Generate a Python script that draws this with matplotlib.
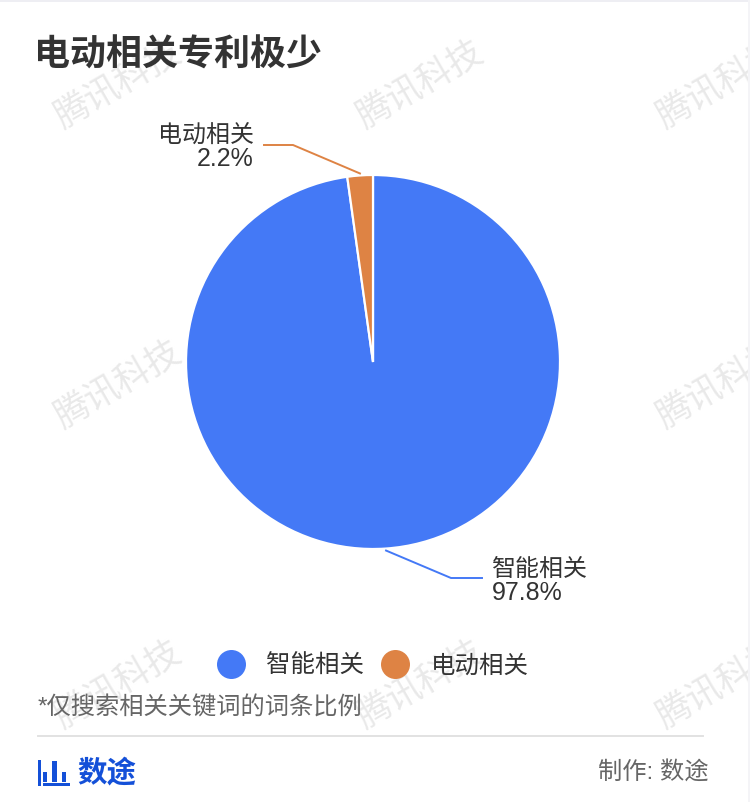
import matplotlib
matplotlib.use('Agg')
import matplotlib.pyplot as plt
from matplotlib.lines import Line2D
from matplotlib.patches import Rectangle
import numpy as np

plt.rcParams['font.family'] = ['Liberation Sans', 'Noto Sans CJK SC']

W, H = 750, 802

categories = ['智能相关', '电动相关']
values = [97.8, 2.2]
colors = ['#4479f6', '#de8344']
value_labels = ['97.8%', '2.2%']

title = '电动相关专利极少'
note = '*仅搜索相关关键词的词条比例'
brand = '数途'
credit = '制作: 数途'
watermark = '腾讯科技'
mark_x = [118, 420, 720]
mark_y = [85, 385, 685]
# x, width, top of each logo bar
logo_bars = [(38, 3, 760), (43, 4, 772), (52, 5, 761), (62, 4, 772)]


def px(size):  # pixel size -> points
    return size * 72 / fig.dpi


fig = plt.figure(figsize=(W / 100, H / 100), dpi=100, facecolor='white')

# background layer, axes in image pixels
back = fig.add_axes([0, 0, 1, 1], zorder=0)
back.set_xlim(0, W)
back.set_ylim(H, 0)
back.axis('off')
for y in mark_y:
    for x in mark_x:
        back.text(x, y, watermark, fontsize=px(35), color='#e9e9e9', rotation=30,
                  ha='center', va='center', rotation_mode='anchor', clip_on=True)
back.add_patch(Rectangle((0, 0), W, 2, color='#eeeef3', lw=0, zorder=5))
back.add_patch(Rectangle((W - 2, 0), 2, H, color='#f4f4f7', lw=0, zorder=5))

# pie
cx, cy, r = 373, 362, 187
ax = fig.add_axes([(cx - r) / W, (H - cy - r) / H, 2 * r / W, 2 * r / H], zorder=1)
ax.patch.set_alpha(0)
wedges, _ = ax.pie(values, colors=colors, startangle=90, counterclock=False, radius=1,
                   wedgeprops={'edgecolor': 'white', 'linewidth': 1.6})
ax.set_xlim(-1, 1)
ax.set_ylim(-1, 1)

# top layer for labels and footer
top = fig.add_axes([0, 0, 1, 1], zorder=2)
top.set_xlim(0, W)
top.set_ylim(H, 0)
top.axis('off')
top.patch.set_alpha(0)

top.text(34, 56, title, fontsize=px(36), fontweight='bold', color='#333333', va='center')

# leader lines start at the middle of each slice
mids = 90 - np.cumsum([0] + values[:-1]) * 3.6 - np.array(values) * 1.8
elbows = [[(451, 578), (482, 578)], [(293, 145), (264, 145)]]
for mid, elbow, col in zip(mids, elbows, colors):
    sx = cx + (r + 2) * np.cos(np.radians(mid))
    sy = cy - (r + 2) * np.sin(np.radians(mid))
    top.plot([sx, elbow[0][0], elbow[1][0]], [sy, elbow[0][1], elbow[1][1]], color=col, lw=1.4,
             solid_joinstyle='miter')

top.text(492, 570, categories[0], fontsize=px(24), color='#333333', va='center')
top.text(492, 593, value_labels[0], fontsize=px(25), color='#333333', va='center')
top.text(254, 136, categories[1], fontsize=px(24), color='#333333', va='center', ha='right')
top.text(254, 159, value_labels[1], fontsize=px(25), color='#333333', va='center', ha='right')

handles = [Line2D([], [], ls='none', marker='o', ms=px(29), color=c, mew=0) for c in colors]
leg = top.legend(handles, categories, loc='center', bbox_to_anchor=(373.4 / W, 1 - 666 / H), ncols=2,
                 frameon=False, fontsize=px(24.5), labelcolor='#333333', handletextpad=0.93,
                 columnspacing=0.8, handlelength=1.0, borderpad=0)

top.text(38, 708, note, fontsize=px(24.3), color='#666666', va='center')
top.plot([38, 703], [736, 736], color='#e2e2e2', lw=1.4)

for x, w, y in logo_bars:
    bottom = 786 if x == logo_bars[0][0] else 782
    top.add_patch(Rectangle((x, y), w, bottom - y, color='#1450d8', lw=0))
top.add_patch(Rectangle((43, 783), 27, 3, color='#1450d8', lw=0))
top.text(77, 773, brand, fontsize=px(29.5), fontweight='bold', color='#1450d8', va='center')
top.text(708, 772, credit, fontsize=px(24.3), color='#666666', va='center', ha='right')

fig.savefig('out.png', dpi=100)
